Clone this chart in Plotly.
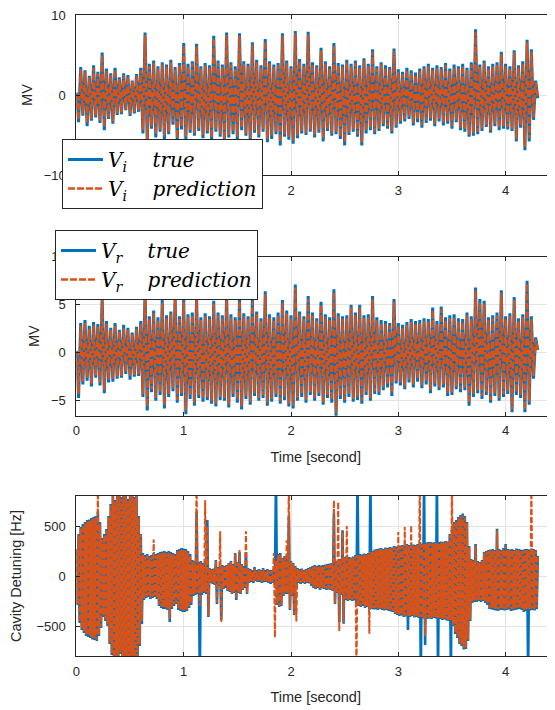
import numpy as np
import plotly.graph_objects as go

DT = 0.02
DT_DET = 0.01

vi_true = [
    0.3, -3.4, 3.5, -2.6, 3.1, -3.9, 2.4, -3.2, 3.7, -2.8,
    2.9, -3.5, 5.3, -4.4, 3.3, -3.0, 2.7, -3.6, 3.4, -2.5,
    2.2, -2.4, 2.7, -1.9, 2.5, -2.6, 1.8, -2.3, 2.6, -2.1,
    3.4, -4.8, 7.8, -5.9, 3.9, -4.2, 4.3, -5.3, 3.6, -4.6,
    4.1, -5.5, 3.8, -4.9, 4.4, -3.7, 3.5, -5.8, 4.0, -4.3,
    6.5, -5.6, 3.9, -4.7, 4.2, -5.1, 6.4, -4.5, 3.6, -5.4,
    4.0, -4.8, 3.7, -5.7, 7.4, -4.6, 4.3, -5.2, 3.8, -6.0,
    7.8, -5.3, 4.1, -4.9, 3.6, -5.6, 7.7, -4.4, 4.2, -5.1,
    3.9, -5.8, 6.6, -4.7, 4.4, -5.3, 3.7, -4.6, 7.0, -5.9,
    4.2, -5.5, 3.8, -4.9, 4.0, -6.3, 7.7, -5.2, 4.3, -5.6,
    3.6, -6.1, 8.0, -5.4, 4.5, -4.8, 3.9, -5.0, 7.9, -4.6,
    4.1, -5.3, 3.7, -4.7, 5.9, -5.8, 4.2, -4.5, 3.6, -5.1,
    6.5, -4.9, 4.0, -5.5, 3.8, -6.3, 4.4, -5.0, 3.9, -4.6,
    4.3, -5.2, 3.7, -6.3, 4.6, -4.8, 3.9, -4.4, 5.7, -4.9,
    3.6, -4.5, 4.1, -3.9, 3.7, -4.2, 3.5, -4.8, 5.8, -4.1,
    3.2, -3.6, 2.9, -3.3, 3.4, -3.0, 3.1, -3.8, 2.8, -3.4,
    3.3, -4.1, 3.6, -3.5, 3.9, -3.2, 3.4, -3.9, 3.7, -3.3,
    3.5, -3.8, 4.0, -3.6, 3.3, -4.2, 3.8, -3.4, 3.6, -4.4,
    3.9, -4.6, 3.4, -5.2, 4.1, -5.1, 8.2, -4.9, 3.8, -4.5,
    4.3, -4.0, 3.6, -4.7, 3.9, -3.9, 4.1, -4.4, 5.4, -4.2,
    3.9, -4.3, 3.6, -4.5, 5.6, -5.8, 3.7, -4.1, 4.2, -6.9,
    6.9, -5.8, 5.7, -3.1, 1.8, -0.4,
]

vi_pred = [
    0.2, -3.1, 3.2, -2.4, 2.9, -3.5, 2.2, -3.0, 3.4, -2.6,
    2.7, -3.2, 5.0, -4.0, 3.0, -2.8, 2.5, -3.3, 3.1, -2.3,
    2.0, -2.2, 2.5, -1.8, 2.3, -2.4, 1.7, -2.1, 2.4, -1.9,
    3.1, -4.4, 7.5, -5.5, 3.6, -3.9, 4.0, -4.9, 3.3, -4.3,
    3.8, -5.1, 3.5, -4.6, 4.1, -3.4, 3.2, -5.4, 3.7, -4.0,
    6.2, -5.2, 3.6, -4.4, 3.9, -4.8, 6.1, -4.2, 3.3, -5.0,
    3.7, -4.5, 3.4, -5.3, 7.1, -4.3, 4.0, -4.9, 3.5, -5.6,
    7.5, -5.0, 3.8, -4.6, 3.3, -5.2, 7.4, -4.1, 3.9, -4.8,
    3.6, -5.4, 6.3, -4.4, 4.1, -5.0, 3.4, -4.3, 6.7, -5.5,
    3.9, -5.1, 3.5, -4.6, 3.7, -5.9, 7.4, -4.9, 4.0, -5.2,
    3.3, -5.7, 7.7, -5.1, 4.2, -4.5, 3.6, -4.7, 7.6, -4.3,
    3.8, -5.0, 3.4, -4.4, 5.6, -5.4, 3.9, -4.2, 3.3, -4.8,
    6.2, -4.6, 3.7, -5.2, 3.5, -5.9, 4.1, -4.7, 3.6, -4.3,
    4.0, -4.9, 3.4, -5.9, 4.3, -4.5, 3.6, -4.1, 5.4, -4.6,
    3.3, -4.2, 3.8, -3.6, 3.4, -3.9, 3.2, -4.5, 5.5, -3.8,
    2.9, -3.3, 2.6, -3.0, 3.1, -2.7, 2.8, -3.5, 2.5, -3.1,
    3.0, -3.8, 3.3, -3.2, 3.6, -2.9, 3.1, -3.6, 3.4, -3.0,
    3.2, -3.5, 3.7, -3.3, 3.0, -3.9, 3.5, -3.1, 3.3, -4.1,
    3.6, -4.3, 3.1, -4.9, 3.8, -4.8, 7.9, -4.6, 3.5, -4.2,
    4.0, -3.7, 3.3, -4.4, 3.6, -3.6, 3.8, -4.1, 5.1, -3.9,
    3.6, -4.0, 3.3, -4.2, 5.3, -5.5, 3.4, -3.8, 3.9, -6.5,
    6.6, -5.4, 5.4, -2.8, 1.6, -0.3,
]

vr_true = [
    0.2, -4.7, 3.1, -3.3, 3.4, -2.9, 2.8, -3.5, 3.2, -2.6,
    3.0, -3.4, 5.8, -4.2, 3.3, -3.1, 2.6, -3.0, 3.1, -2.7,
    2.4, -2.6, 2.9, -2.2, 2.6, -2.8, 2.1, -2.5, 2.7, -2.4,
    3.3, -4.6, 6.7, -6.0, 3.8, -4.1, 4.4, -5.0, 3.7, -4.4,
    5.5, -5.8, 3.9, -4.6, 4.3, -4.0, 5.9, -5.2, 3.8, -4.5,
    5.6, -6.4, 4.0, -4.8, 4.2, -5.5, 5.9, -4.7, 3.7, -5.1,
    4.1, -4.9, 3.8, -5.3, 5.4, -5.6, 4.2, -4.9, 3.9, -5.0,
    6.2, -5.7, 4.0, -4.6, 3.7, -5.2, 5.7, -5.9, 4.1, -4.8,
    3.8, -5.4, 5.6, -4.5, 4.3, -5.0, 3.6, -4.7, 6.4, -5.5,
    4.0, -5.1, 3.7, -4.6, 4.2, -5.3, 5.5, -4.9, 4.4, -5.6,
    3.9, -5.8, 7.1, -5.0, 4.3, -4.6, 3.8, -5.2, 5.9, -4.4,
    4.2, -5.0, 3.6, -4.5, 5.3, -5.4, 4.0, -4.7, 3.7, -5.2,
    6.6, -6.6, 4.1, -4.8, 3.8, -5.2, 3.9, -4.6, 5.0, -5.1,
    4.2, -4.9, 5.0, -5.3, 3.9, -4.4, 4.0, -5.0, 5.9, -4.3,
    3.7, -4.4, 3.4, -3.9, 3.3, -3.6, 3.1, -4.5, 5.6, -3.2,
    3.1, -3.4, 2.9, -3.8, 3.2, -3.1, 3.5, -3.6, 3.3, -3.0,
    3.4, -3.7, 3.6, -3.3, 3.5, -4.2, 4.7, -3.5, 3.3, -3.9,
    4.8, -3.6, 3.7, -4.5, 3.9, -4.4, 4.0, -3.8, 3.6, -4.1,
    3.5, -3.9, 4.2, -5.5, 3.8, -4.6, 6.8, -4.2, 5.6, -4.8,
    5.4, -4.4, 3.7, -5.2, 3.9, -4.5, 4.2, -5.0, 6.5, -4.6,
    3.8, -4.3, 4.1, -6.2, 5.8, -4.4, 3.6, -4.7, 4.0, -6.2,
    7.5, -5.4, 3.8, -2.7, 1.6, 0.3,
]

vr_pred = [
    0.1, -4.3, 2.8, -3.0, 3.1, -2.6, 2.5, -3.2, 2.9, -2.4,
    2.7, -3.1, 5.5, -3.9, 3.0, -2.8, 2.4, -2.7, 2.8, -2.5,
    2.2, -2.4, 2.6, -2.0, 2.4, -2.5, 1.9, -2.3, 2.5, -2.2,
    3.0, -4.3, 6.4, -5.6, 3.5, -3.8, 4.1, -4.7, 3.4, -4.1,
    5.2, -5.4, 3.6, -4.3, 4.0, -3.7, 5.6, -4.9, 3.5, -4.2,
    5.3, -6.0, 3.7, -4.5, 3.9, -5.2, 5.6, -4.4, 3.4, -4.8,
    3.8, -4.6, 3.5, -5.0, 5.1, -5.3, 3.9, -4.6, 3.6, -4.7,
    5.9, -5.4, 3.7, -4.3, 3.4, -4.9, 5.4, -5.6, 3.8, -4.5,
    3.5, -5.1, 5.3, -4.2, 4.0, -4.7, 3.3, -4.4, 6.1, -5.2,
    3.7, -4.8, 3.4, -4.3, 3.9, -5.0, 5.2, -4.6, 4.1, -5.3,
    3.6, -5.5, 6.8, -4.7, 4.0, -4.3, 3.5, -4.9, 5.6, -4.1,
    3.9, -4.7, 3.3, -4.2, 5.0, -5.1, 3.7, -4.4, 3.4, -4.9,
    6.3, -6.3, 3.8, -4.5, 3.5, -4.9, 3.6, -4.3, 4.7, -4.8,
    3.9, -4.6, 4.7, -5.0, 3.6, -4.1, 3.7, -4.7, 5.6, -4.0,
    3.4, -4.1, 3.1, -3.6, 3.0, -3.3, 2.8, -4.2, 5.3, -2.9,
    2.8, -3.1, 2.6, -3.5, 2.9, -2.8, 3.2, -3.3, 3.0, -2.7,
    3.1, -3.4, 3.3, -3.0, 3.2, -3.9, 4.4, -3.2, 3.0, -3.6,
    4.5, -3.3, 3.4, -4.2, 3.6, -4.1, 3.7, -3.5, 3.3, -3.8,
    3.2, -3.6, 3.9, -5.2, 3.5, -4.3, 6.5, -3.9, 5.3, -4.5,
    5.1, -4.1, 3.4, -4.9, 3.6, -4.2, 3.9, -4.7, 6.2, -4.3,
    3.5, -4.0, 3.8, -5.9, 5.5, -4.1, 3.3, -4.4, 3.7, -5.9,
    7.2, -5.1, 3.5, -2.4, 1.4, 0.2,
]

# cavity detuning [Hz], alternating upper / lower swings every 0.01 s
det_true = [
    270, -290, 420, -470, 490, -540, 520, -570, 540, -600,
    560, -610, 565, -620, 580, -635, 590, -640, 600, -650,
    640, -600, 540, -520, 380, -410, 420, -450, 470, -500,
    600, -680, 720, -790, 850, -850, 760, -850, 850, -850,
    850, -780, 790, -850, 850, -850, 850, -850, 770, -820,
    850, -850, 850, -850, 790, -850, 850, -850, 600, -700,
    420, -480, 230, -240, 210, -220, 220, -210, 200, -230,
    210, -220, 230, -210, 220, -230, 230, -300, 240, -320,
    245, -330, 250, -330, 240, -340, 250, -460, 240, -330,
    230, -300, 220, -280, 260, -340, 270, -350, 280, -360,
    275, -360, 270, -350, 250, -320, 220, -290, 160, -200,
    150, -190, 640, -180, 140, -1000, 150, -190, 130, -170,
    140, -180, 560, -410, 80, -70, 70, -80, 75, -90,
    160, -280, 90, -100, 100, -440, 110, -130, 100, -120,
    110, -150, 130, -160, 150, -180, 120, -170, 230, -240,
    140, -170, 240, -180, 120, -140, 100, -120, 240, -180,
    80, -70, 70, -60, 60, -70, 90, -50, 60, -60,
    70, -60, 60, -70, 80, -60, 60, -60, 70, -70,
    60, -80, 60, -70, 70, -80, 1000, -290, 220, -310,
    230, -300, 180, -200, 200, -180, 200, -180, 590, -340,
    150, -200, 130, -390, 100, -120, 80, -70, 70, -80,
    75, -70, 60, -80, 70, -70, 80, -75, 90, -100,
    100, -120, 110, -130, 100, -120, 110, -140, 105, -125,
    110, -130, 115, -140, 120, -135, 125, -140, 130, -150,
    620, -280, 150, -170, 160, -460, 170, -190, 457, -477,
    190, -240, 200, -250, 190, -240, 185, -250, 195, -245,
    210, -260, 1000, -300, 220, -310, 215, -300, 225, -320,
    220, -310, 230, -330, 1000, -330, 250, -335, 265, -335,
    270, -340, 275, -330, 280, -340, 270, -345, 285, -340,
    280, -350, 290, -355, 285, -360, 300, -380, 295, -390,
    300, -400, 305, -395, 310, -410, 300, -405, 320, -540,
    310, -410, 300, -400, 315, -415, 310, -410, 320, -420,
    330, -1000, 325, -425, 1000, -690, 335, -430, 340, -425,
    340, -430, 335, -420, 340, -425, 1000, -1000, 340, -430,
    345, -440, 340, -435, 350, -445, 345, -450, 420, -1000,
    460, -500, 540, -580, 560, -620, 590, -680, 610, -700,
    625, -735, 600, -730, 540, -650, 300, -450, 170, -270,
    160, -260, 320, -260, 150, -250, 140, -260, 160, -250,
    240, -270, 250, -290, 260, -330, 265, -335, 270, -340,
    260, -345, 473, -350, 270, -340, 260, -340, 280, -345,
    320, -340, 270, -335, 265, -350, 270, -345, 260, -340,
    275, -335, 270, -330, 265, -340, 260, -360, 270, -350,
    270, -1000, 265, -345, 275, -340, 270, -345, 260, -330,
    200,
]

det_pred = [
    255, -275, 405, -455, 475, -525, 505, -555, 525, -585,
    545, -595, 550, -605, 565, -620, 575, -625, 585, -635,
    1000, -585, 525, -505, 365, -395, 405, -435, 455, -485,
    585, -665, 705, -775, 850, -850, 745, -850, 850, -850,
    850, -765, 775, -850, 850, -850, 850, -850, 755, -805,
    850, -850, 850, -850, 775, -850, 850, -850, 585, -685,
    415, -450, 215, -225, 195, -205, 205, -195, 185, -215,
    195, -205, 365, -195, 205, -215, 215, -285, 225, -305,
    230, -315, 235, -315, 225, -325, 235, -430, 225, -315,
    215, -285, 205, -265, 245, -325, 255, -335, 265, -345,
    260, -345, 255, -335, 235, -305, 205, -275, 145, -185,
    135, -175, 1000, -165, 125, -300, 135, -175, 115, -155,
    757, -165, 500, -400, 70, -60, 60, -70, 65, -80,
    150, -265, 80, -90, 448, -465, 100, -120, 90, -110,
    100, -140, 120, -150, 140, -170, 110, -160, 220, -230,
    130, -160, 260, -170, 110, -130, 90, -110, 448, -170,
    70, -60, 60, -50, 50, -60, 80, -45, 50, -50,
    60, -50, 50, -60, 70, -50, 50, -50, 60, -60,
    50, -70, 50, -60, 230, -615, 150, -280, 210, -300,
    220, -290, 170, -190, 190, -170, 357, -170, 1000, -330,
    140, -190, 120, -380, 90, -455, 70, -60, 60, -70,
    65, -60, 50, -70, 60, -60, 70, -65, 80, -90,
    90, -110, 100, -120, 90, -110, 100, -130, 95, -115,
    100, -120, 105, -130, 110, -125, 115, -130, 120, -140,
    757, -270, 140, -160, 740, -550, 160, -180, 440, -460,
    180, -230, 500, -240, 180, -230, 175, -240, 185, -235,
    200, -1000, 210, -290, 210, -300, 205, -290, 215, -310,
    210, -300, 220, -577, 240, -320, 240, -325, 255, -325,
    260, -330, 265, -320, 270, -330, 260, -335, 275, -330,
    270, -340, 280, -345, 275, -350, 290, -370, 285, -380,
    440, -390, 295, -385, 300, -400, 490, -395, 310, -400,
    300, -400, 507, -390, 305, -405, 300, -400, 310, -410,
    1000, -410, 315, -415, 330, -600, 325, -420, 330, -415,
    330, -420, 325, -410, 330, -415, 330, -420, 330, -420,
    335, -430, 330, -425, 340, -435, 335, -440, 410, -440,
    1000, -490, 525, -565, 545, -605, 575, -665, 595, -685,
    610, -720, 585, -715, 525, -635, 285, -435, 160, -255,
    150, -245, 305, -245, 140, -240, 130, -245, 150, -240,
    230, -255, 240, -275, 250, -315, 255, -320, 260, -325,
    250, -330, 455, -335, 260, -325, 250, -325, 270, -330,
    305, -325, 260, -320, 255, -335, 260, -330, 250, -325,
    265, -320, 260, -315, 255, -325, 250, -345, 260, -335,
    260, -330, 255, -330, 1000, -325, 260, -330, 250, -315,
    190,
]

x_ticks = [0, 1, 2, 3, 4]
y1_ticks = [-10, 0, 10]
y2_ticks = [-5, 0, 5, 10]
y3_ticks = [-500, 0, 500]

BLUE = "#0072BD"
ORANGE = "#D95319"
AX = "#262626"
GRID = "#e3e3e3"

# the page places the figure 8 px from the window's top-left corner
OFF = 8
W, H = 555 - OFF, 710 - OFF


def px_x(px):
    return (px - OFF) / W


def px_y(py):
    return 1 - (py - OFF) / H


fig = go.Figure()


def add(y, dt, xa, ya, color, width, dash, name, legend, show):
    t = np.arange(len(y)) * dt
    fig.add_trace(go.Scatter(
        x=t, y=y, xaxis=xa, yaxis=ya, mode="lines", name=name,
        line=dict(color=color, width=width, dash=dash),
        legend=legend, showlegend=show, hoverinfo="skip"))


def lab(sym, word):
    return f"<i>V</i><sub><i>{sym}</i></sub>&nbsp;&nbsp;&nbsp;&nbsp;<i>{word}</i>"


add(vi_true, DT, "x", "y", BLUE, 3.0, "solid", lab("i", "true"), "legend", True)
add(vi_pred, DT, "x", "y", ORANGE, 2.3, "7px,2px", lab("i", "prediction"), "legend", True)
add(vr_true, DT, "x2", "y2", BLUE, 3.0, "solid", lab("r", "true"), "legend2", True)
add(vr_pred, DT, "x2", "y2", ORANGE, 2.3, "7px,2px", lab("r", "prediction"), "legend2", True)
add(det_true, DT_DET, "x3", "y3", BLUE, 2.6, "solid", "true", "legend", False)
add(det_pred, DT_DET, "x3", "y3", ORANGE, 2.0, "6px,2px", "prediction", "legend", False)

x_left = px_x(76.4)
x_max = (555 - 76.4) / 107.3

xcommon = dict(range=[0, x_max], tickvals=x_ticks, showgrid=True, gridcolor=GRID,
               gridwidth=1, showline=True, linecolor=AX, linewidth=1, mirror="ticks",
               ticks="inside", ticklen=4, tickcolor=AX, zeroline=False, automargin=False,
               tickfont=dict(family="Liberation Sans, Arial", size=13, color=AX),
               ticklabelstandoff=3, ticklabeloverflow="allow")
ycommon = dict(showgrid=True, gridcolor=GRID, gridwidth=1, showline=True,
               linecolor=AX, linewidth=1, mirror=False, ticks="inside", ticklen=4,
               tickcolor=AX, zeroline=False, automargin=False,
               tickfont=dict(family="Liberation Sans, Arial", size=13, color=AX),
               ticklabelstandoff=7, ticklabeloverflow="allow")
tfont = dict(family="Liberation Sans, Arial", size=14.5, color=AX)
lfont = dict(family="DejaVu Serif", size=20, color="black")

fig.update_layout(
    width=W, height=H, margin=dict(l=0, r=0, t=0, b=0, autoexpand=False),
    plot_bgcolor="white", paper_bgcolor="white",
    xaxis=dict(xcommon, domain=[x_left, 1], anchor="y"),
    yaxis=dict(ycommon, domain=[px_y(175), px_y(15)], range=[-10, 10],
               tickvals=y1_ticks, anchor="x",
               title=dict(text="MV", font=tfont, standoff=7)),
    xaxis2=dict(xcommon, domain=[x_left, 1], anchor="y2",
                title=dict(text="Time [second]", font=tfont, standoff=14)),
    yaxis2=dict(ycommon, domain=[px_y(415.7), px_y(256.7)], range=[-6.55, 10],
                tickvals=y2_ticks, anchor="x2",
                title=dict(text="MV", font=tfont, standoff=7)),
    xaxis3=dict(xcommon, domain=[x_left, 1], anchor="y3",
                title=dict(text="Time [second]", font=tfont, standoff=14)),
    yaxis3=dict(ycommon, domain=[px_y(656), px_y(496)], range=[-800, 800],
                tickvals=y3_ticks, anchor="x3",
                title=dict(text="Cavity Detuning [Hz]", font=tfont, standoff=11)),
    legend=dict(x=px_x(62), y=px_y(139), xanchor="left", yanchor="top",
                bgcolor="white", bordercolor=AX, borderwidth=1, font=lfont,
                itemwidth=35, tracegroupgap=0),
    legend2=dict(x=px_x(55), y=px_y(230), xanchor="left", yanchor="top",
                 bgcolor="white", bordercolor=AX, borderwidth=1, font=lfont,
                 itemwidth=35, tracegroupgap=0),
)

fig.write_html("out.html")
